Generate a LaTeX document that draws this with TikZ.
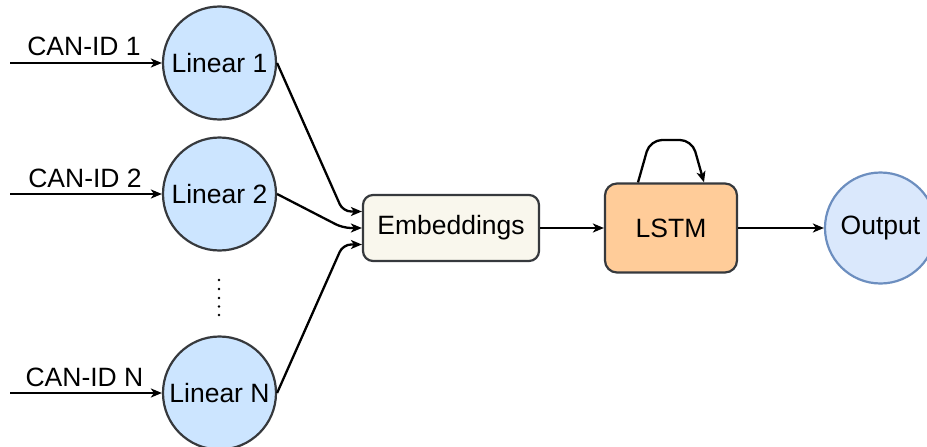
\documentclass[tikz,border=0pt]{standalone}
\usepackage{fontspec}
\setmainfont{Liberation Sans}
\usetikzlibrary{arrows.meta,positioning}

\definecolor{edgegray}{HTML}{36393D}
\definecolor{linfill}{HTML}{CCE5FF}
\definecolor{embfill}{HTML}{F9F7ED}
\definecolor{lstmfill}{HTML}{FFCC99}
\definecolor{outfill}{HTML}{DAE8FC}
\definecolor{outline}{HTML}{6C8EBF}

\tikzset{
  every node/.style={font=\fontsize{26.5}{31}\selectfont, inner sep=0pt},
  linear/.style={circle, draw=edgegray, line width=2.2pt, fill=linfill, minimum size=113pt},
  embbox/.style={rectangle, rounded corners=10pt, draw=edgegray, line width=2.2pt, fill=embfill,
                 minimum width=176pt, minimum height=66pt},
  lstmbox/.style={rectangle, rounded corners=12pt, draw=edgegray, line width=2.2pt, fill=lstmfill,
                  minimum width=132pt, minimum height=89pt},
  outcircle/.style={circle, draw=outline, line width=2.2pt, fill=outfill, minimum size=111pt},
  conn/.style={draw=black, line width=2.3pt, -{Stealth[length=11pt,width=9pt,inset=3pt]}},
  idlabel/.style={anchor=base},
  dotmark/.style={fill=black, draw=none}
}

\begin{document}
\begin{tikzpicture}[x=1pt, y=-1pt]
  \useasboundingbox (0,0) rectangle (927,447);

  % input encoders
  \node[linear] (l1) at (219.5,63) {Linear 1};
  \node[linear] (l2) at (219.5,194) {Linear 2};
  \node[linear] (ln) at (219.5,393) {Linear N};

  % vertical ellipsis between encoder 2 and N
  \foreach \yy in {280,289,298,306.5,315}
    \fill[dotmark] (219,\yy) circle (1.4pt);

  % inputs
  \coordinate (s1) at (10,63);
  \coordinate (s2) at (10,194);
  \coordinate (sn) at (10,393);
  \draw[conn] (s1) -- (l1.west);
  \draw[conn] (s2) -- (l2.west);
  \draw[conn] (sn) -- (ln.west);
  \node[idlabel] (t1) at (84,55) {CAN-ID 1};
  \node[idlabel] (t2) at (85,187) {CAN-ID 2};
  \node[idlabel] (tn) at (84.5,386) {CAN-ID N};

  % embedding and sequence model
  \node[embbox] (emb) at (451,228) {Embeddings};
  \node[lstmbox] (lstm) at (671,228) {LSTM};
  \node[outcircle] (out) at (880.5,228) {Output};

  % encoder outputs into the embedding block
  \coordinate (e1) at ([yshift=16.5pt]emb.west);
  \coordinate (en) at ([yshift=-16.5pt]emb.west);
  \draw[conn, rounded corners=8pt] (l1.east) -- (343,211.5) -- (e1);
  \draw[conn, rounded corners=8pt] (l2.east) -- (343,228) -- (emb.west);
  \draw[conn, rounded corners=8pt] (ln.east) -- (343,244.5) -- (en);

  % main flow
  \draw[conn] (emb.east) -- (lstm.west);
  \draw[conn] (lstm.east) -- (out.west);

  % recurrent self-loop
  \draw[conn, rounded corners=12pt] ([xshift=-33pt]lstm.north) -- (650,140) -- (692,140) -- ([xshift=33pt]lstm.north);
\end{tikzpicture}
\end{document}
